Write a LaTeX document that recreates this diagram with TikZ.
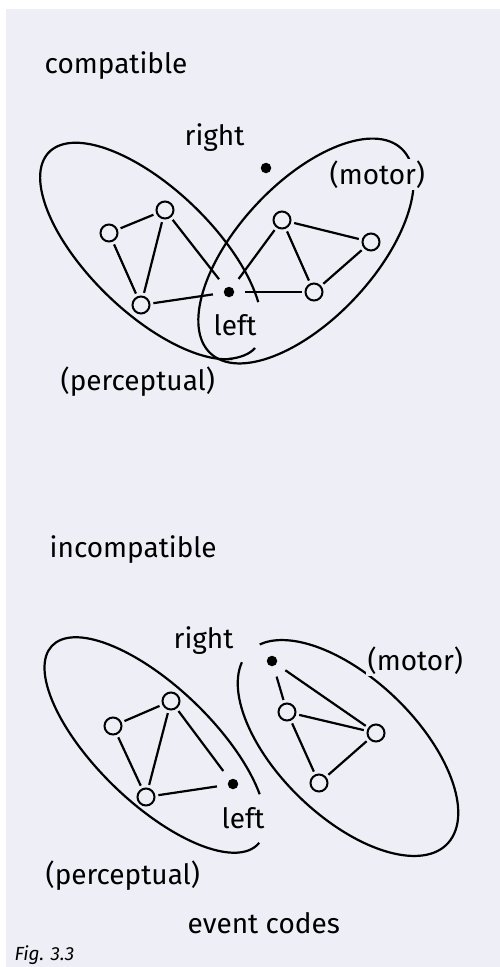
\documentclass[tikz,border=0pt]{standalone}
\usepackage{fontspec}
\setmainfont{Fira Sans}
\usetikzlibrary{positioning}
\definecolor{PaperLilac}{RGB}{238,238,246}
\newcommand{\tagfont}{\fontsize{28}{32}\selectfont}
\tikzset{
	cnode/.style={circle,draw=black,line width=2pt,minimum size=17pt,inner sep=0pt,outer sep=4pt},
	dnode/.style={circle,fill=black,minimum size=10.5pt,inner sep=0pt,outer sep=11pt},
	link/.style={draw=black,line width=2.2pt},
	ring/.style={draw=black,line width=2.2pt},
	tag/.style={fill=PaperLilac,inner sep=1.5pt,anchor=base west,font=\tagfont},
}
\begin{document}
\begin{tikzpicture}[x=1pt,y=1pt]
	\useasboundingbox (0,0) rectangle (500,-967);
	\fill[PaperLilac] (6,-9) rectangle (500,-967);
	% compatible
	\begin{scope}[shift={(151,-251)},rotate=-44]
		\draw[ring] (37.5:142pt and 62pt) arc[start angle=37.5,end angle=340,x radius=142pt,y radius=62pt];
	\end{scope}
	\begin{scope}[shift={(306,-251)},rotate=47]
		\draw[ring] (0,0) ellipse[x radius=140pt,y radius=68pt];
	\end{scope}
	\draw[ring] (228,-359) .. controls (240,-358) and (250,-354) .. (255,-348);
	\node[cnode] (p1) at (109,-233) {};
	\node[cnode] (p2) at (165,-210) {};
	\node[cnode] (p3) at (141,-305) {};
	\node[dnode] (lf) at (229,-292) {};
	\node[dnode] (rt) at (266,-168) {};
	\node[cnode] (m1) at (282,-220) {};
	\node[cnode] (m2) at (371,-242) {};
	\node[cnode] (m3) at (314,-292) {};
	\foreach \x/\y in {p1/p2,p1/p3,p2/p3,p2/lf,p3/lf,lf/m1,lf/m3,m1/m2,m1/m3,m2/m3}
	\draw[link] (\x)--(\y);
	\node[tag] (tcomp) at (43,-73) {compatible};
	\node[tag] (tright) at (183,-145) {right};
	\node[tag] (tmotor) at (328,-184) {(motor)};
	\node[tag] (tleft) at (212,-335) {left};
	\node[tag] (tperc) at (59,-390) {(perceptual)};
	% incompatible
	\begin{scope}[shift={(155,-745)},rotate=-44]
		\draw[ring] (40:143pt and 58pt) arc[start angle=40,end angle=362,x radius=143pt,y radius=58pt];
	\end{scope}
	\begin{scope}[shift={(348,-748)},rotate=-44]
		\draw[ring] (190:138pt and 69pt) arc[start angle=190,end angle=529,x radius=138pt,y radius=69pt];
	\end{scope}
	\node[cnode] (q1) at (113,-726) {};
	\node[cnode] (q2) at (171,-701) {};
	\node[cnode] (q3) at (146,-797) {};
	\node[dnode] (lfb) at (233,-784) {};
	\node[dnode] (rtb) at (272,-661) {};
	\node[cnode] (n1) at (287,-712) {};
	\node[cnode] (n2) at (376,-733) {};
	\node[cnode] (n3) at (319,-783) {};
	\foreach \x/\y in {q1/q2,q1/q3,q2/q3,q2/lfb,q3/lfb,rtb/n1,rtb/n2,n1/n2,n1/n3,n2/n3}
	\draw[link] (\x)--(\y);
	\node[tag] (tincomp) at (48,-557) {incompatible};
	\node[tag] (trightb) at (172,-648) {right};
	\node[tag] (tmotorb) at (366,-670) {(motor)};
	\node[tag] (tleftb) at (220,-828) {left};
	\node[tag] (tpercb) at (44,-884) {(perceptual)};
	\node[tag] (tcodes) at (186,-933) {event codes};
	\node[tag,font=\fontsize{19}{22}\selectfont\itshape] (tfig) at (13,-960) {Fig. 3.3};
\end{tikzpicture}
\end{document}
